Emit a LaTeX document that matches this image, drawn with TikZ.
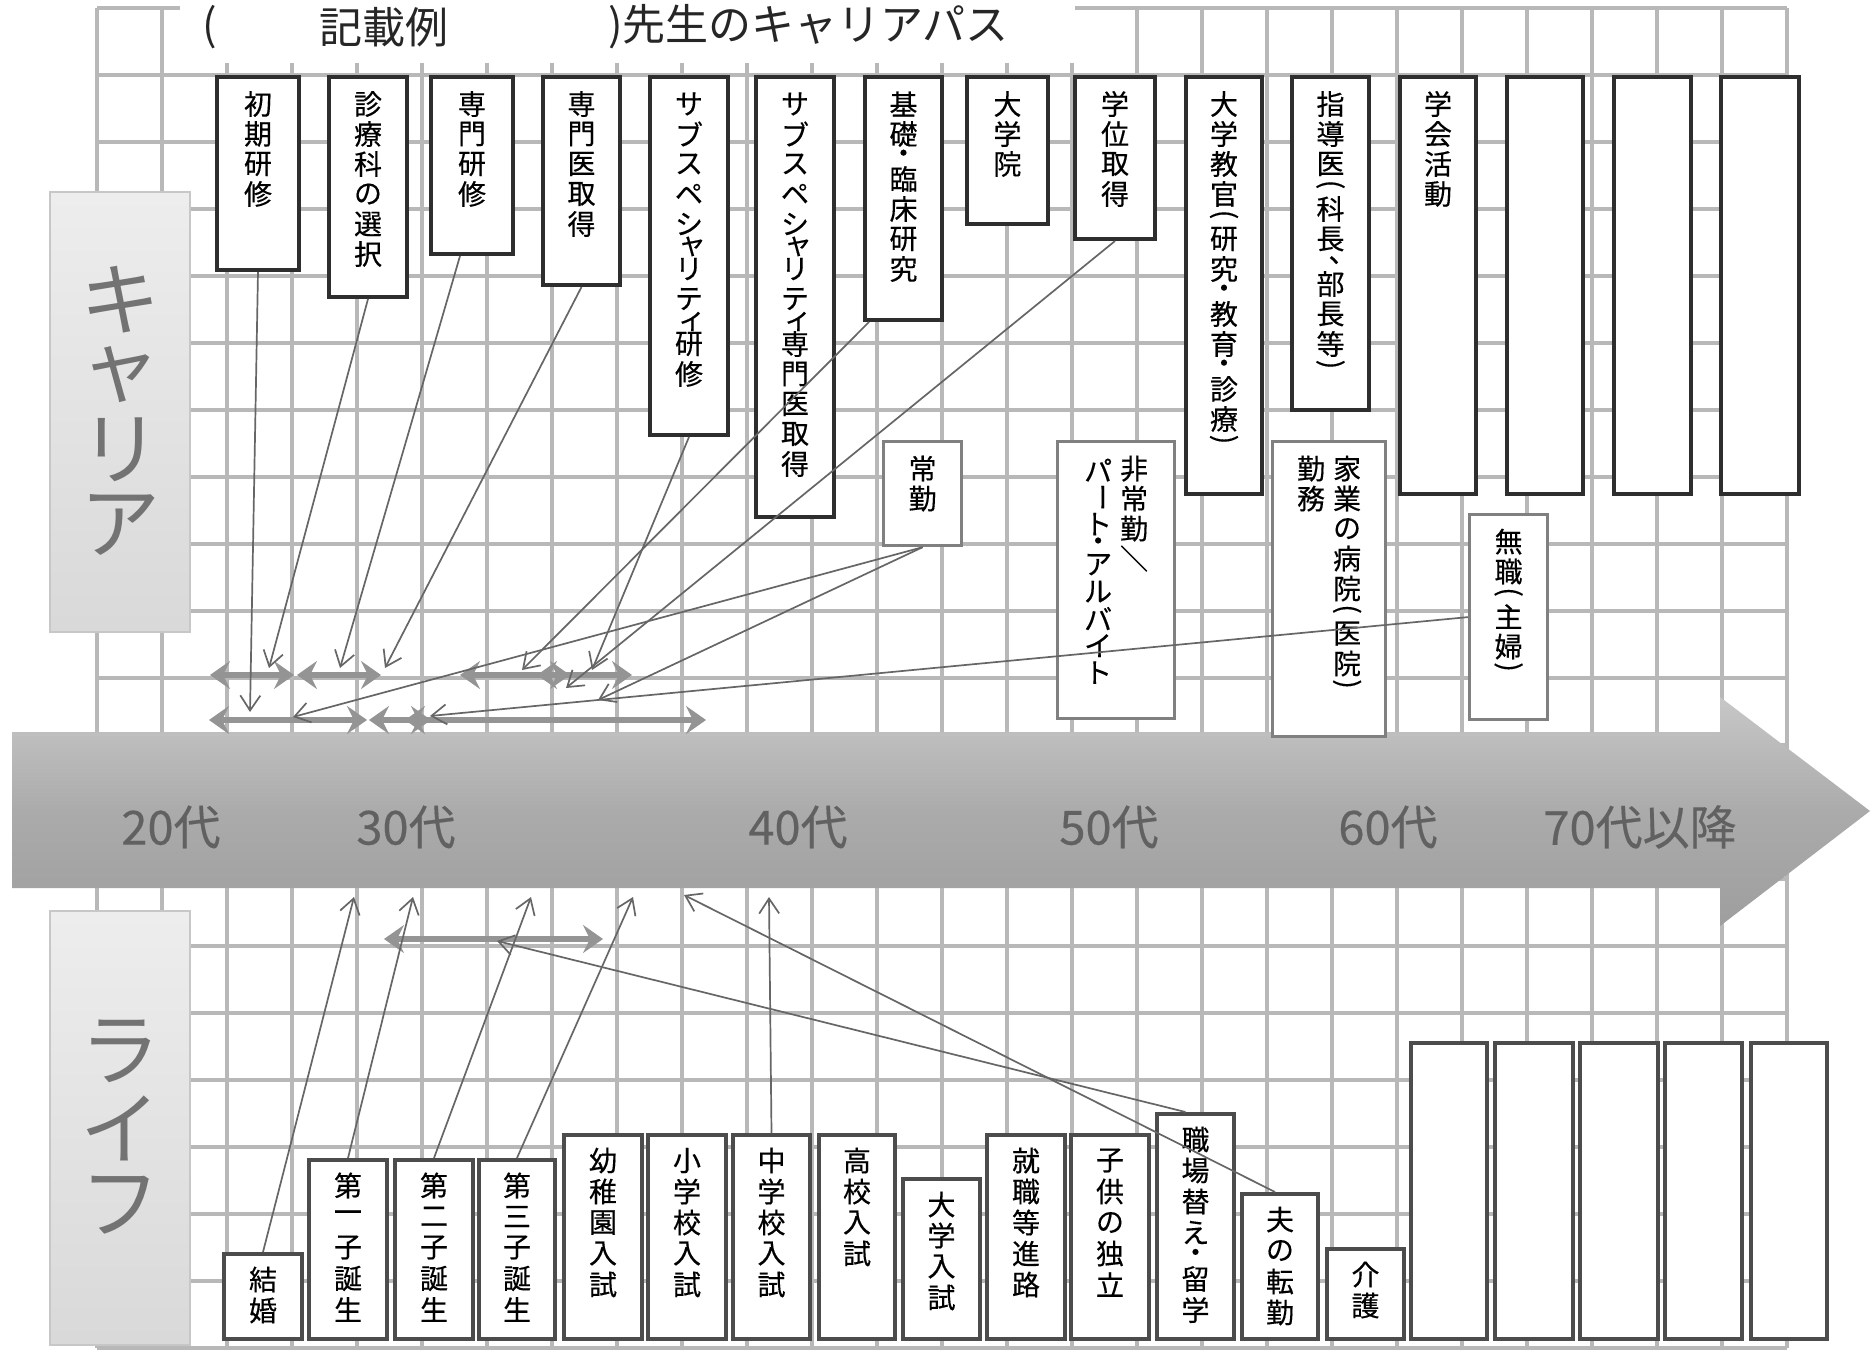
\documentclass[tikz,border=0pt]{standalone}
\usepackage{fontspec}
\usepackage{graphicx}
\setmainfont{Noto Sans CJK JP}
\newfontfamily\bjp{Noto Sans CJK JP}[FakeBold=0.35]
\usetikzlibrary{arrows.meta}

\newdimen\cellH \cellH=30pt
\newdimen\cellW \cellW=32pt
\newdimen\boxpad \boxpad=12pt
\newcommand\K[1]{\hbox to \cellW{\hss\vbox to \cellH{\vss\hbox{#1}\vss}\hss}}
\newcommand\HC[1]{\hbox to \cellW{\hss\vbox to 0.5\cellH{\vss\hbox{#1}\vss}\hss}}
\newcommand\lp{\HC{\rotatebox[origin=c]{-90}{(}}}
\newcommand\rp{\HC{\rotatebox[origin=c]{-90}{)}}}
\newcommand\nak{\HC{・}}
\newcommand\cho{\K{\rotatebox[origin=c]{-90}{ー}}}
\newcommand\ten{\HC{\hspace*{24pt}\smash{\raisebox{-1pt}{、}}}}
\newcommand\sya{\HC{\hspace*{6pt}ャ}}
\newcommand\syi{\HC{\hspace*{6pt}ィ}}

\makeatletter
\def\vt@stop{\vt@stop}
\newcommand\vtext[1]{\vtop{\offinterlineskip\vt@loop#1\vt@stop}}
\def\vt@loop#1{\ifx#1\vt@stop\else\vt@item{#1}\expandafter\vt@loop\fi}
\def\vt@item#1{\ifcat\noexpand#1\relax#1\else\K{#1}\fi}
\makeatother
\newcommand\lt[1]{{\cellH=31pt\vtext{#1}}}

\newcommand\mkbox[7]{%
  \pgfmathsetmacro\bxw{#5-#3}%
  \pgfmathsetmacro\bxh{#6-#4}%
  \node[#1, anchor=north west, inner sep=0pt, minimum width=\bxw pt, minimum height=\bxh pt] (#2) at (#3,#4)
   {\vbox to \bxh pt{\vskip\boxpad\hbox to \bxw pt{\hss#7\hss}\vss}};}

\definecolor{gridc}{gray}{0.72}
\definecolor{darkb}{gray}{0.18}
\definecolor{lifeb}{gray}{0.3}
\definecolor{lightb}{gray}{0.5}
\definecolor{thinl}{gray}{0.4}
\definecolor{thickl}{gray}{0.58}
\definecolor{agec}{gray}{0.38}
\definecolor{panelt}{gray}{0.45}

\begin{document}
\begin{tikzpicture}[x=1pt,y=-1pt,
  gridline/.style={draw=gridc, line width=4.5pt},
  cbox/.style={draw=darkb, line width=4pt, fill=white, font=\bjp\fontsize{28pt}{30pt}\selectfont},
  lbox/.style={draw=lifeb, line width=4pt, fill=white, font=\bjp\fontsize{28pt}{30pt}\selectfont},
  gbox/.style={draw=lightb, line width=3.2pt, fill=white, font=\bjp\fontsize{28pt}{30pt}\selectfont},
  panel/.style={draw=black!22, line width=1.5pt, top color=black!7, bottom color=black!15, text=panelt, inner sep=0pt, font=\fontsize{80pt}{80pt}\selectfont},
  agelbl/.style={text=agec, inner sep=0pt, font=\bjp\fontsize{47pt}{50pt}\selectfont},
  title/.style={text=black!85, inner sep=0pt, font=\fontsize{43pt}{45pt}\selectfont},
  conn/.style={draw=thinl, line width=1.7pt, -{Straight Barb[length=15pt,width=20pt]}},
  dbl/.style={draw=thickl, line width=6pt, {Stealth[length=20pt,width=28pt,inset=7pt]}-{Stealth[length=20pt,width=28pt,inset=7pt]}}
]
\useasboundingbox (0,0) rectangle (1874,1351);
\fill[white] (0,0) rectangle (1874,1351);

% grid
\foreach \i in {0,...,26} {\draw[gridline] ({97+65*\i},8) -- ({97+65*\i},1348);}
\foreach \j in {0,...,20} {\draw[gridline] (97,{8+67*\j}) -- (1787,{8+67*\j});}
\fill[white] (180,0) rectangle (1075,63);

% title
\node[title] (tlp) at (210,27) {(};
\node[title] (tkisai) at (384,27) {記載例};
\node[title, anchor=west] (tsensei) at (608,27) {)先生のキャリアパス};

% side panels
\node[panel, minimum width=140pt, minimum height=440pt] (cpanel) at (120,412) {\cellW=100pt\cellH=75pt\vtext{キャリア}};
\node[panel, minimum width=140pt, minimum height=434pt] (lpanel) at (120,1128) {\cellW=100pt\cellH=77pt\vtext{ライフ}};

% timeline arrow
\shade[top color=black!22, bottom color=black!38, middle color=black!33]
  (12,732) -- (1720,732) -- (1720,697) -- (1870,811) -- (1720,926) -- (1720,888) -- (12,888) -- cycle;
\draw[white!75!black, line width=2pt] (14,735) -- (1718,735);
\node[agelbl] (a20) at (171,827) {20代};
\node[agelbl] (a30) at (406,827) {30代};
\node[agelbl] (a40) at (798,827) {40代};
\node[agelbl] (a50) at (1109,827) {50代};
\node[agelbl] (a60) at (1388,827) {60代};
\node[agelbl] (a70) at (1640,827) {70代以降};

% career boxes
\mkbox{cbox}{shoki}{215}{75}{297}{268}{\vtext{初期研修}}
\mkbox{cbox}{shinryo}{327}{75}{405}{295}{\vtext{診療科の選択}}
\mkbox{cbox}{senken}{429}{75}{511}{252}{\vtext{専門研修}}
\mkbox{cbox}{senshu}{541}{75}{618}{283}{\vtext{専門医取得}}
\mkbox{cbox}{subken}{648}{75}{726}{433}{\vtext{サブスペシ\sya リテ\syi 研修}}
\mkbox{cbox}{subshu}{754}{75}{832}{515}{\vtext{サブスペシ\sya リテ\syi 専門医取得}}
\mkbox{cbox}{kiso}{863}{75}{940}{318}{\vtext{基礎\nak 臨床研究}}
\mkbox{cbox}{daigakuin}{965}{75}{1046}{222}{\vtext{大学院}}
\mkbox{cbox}{gakui}{1073}{75}{1153}{237}{\vtext{学位取得}}
\mkbox{cbox}{kyokan}{1184}{75}{1260}{492}{\vtext{大学教官\lp 研究\nak 教育\nak 診療\rp}}
\mkbox{cbox}{shido}{1290}{75}{1367}{408}{\vtext{指導医\lp 科長\ten 部長等\rp}}
\mkbox{cbox}{gakkai}{1398}{75}{1474}{492}{\vtext{学会活動}}
\mkbox{cbox}{ce1}{1505}{75}{1581}{492}{}
\mkbox{cbox}{ce2}{1612}{75}{1689}{492}{}
\mkbox{cbox}{ce3}{1719}{75}{1797}{492}{}

% work-style boxes
\mkbox{gbox}{jokin}{882}{440}{960}{544}{\vtext{常勤}}
\mkbox{gbox}{hijokin}{1056}{440}{1173}{717}{{\cellH=27pt\vtext{パ\cho ト\nak アルバイト}}\kern4pt\vtext{非常勤＼}}
\mkbox{gbox}{kagyo}{1271}{440}{1384}{735}{\vtext{勤務}\kern4pt\vtext{家業の病院\lp 医院\rp}}
\mkbox{gbox}{mushoku}{1468}{513}{1546}{718}{\vtext{無職\lp 主婦\rp}}

% life boxes
\boxpad=10pt
\mkbox{lbox}{kekkon}{222}{1252}{300}{1337}{\lt{結婚}}
\mkbox{lbox}{dai1}{307}{1158}{385}{1337}{\lt{第一子誕生}}
\mkbox{lbox}{dai2}{393}{1158}{471}{1337}{\lt{第二子誕生}}
\mkbox{lbox}{dai3}{477}{1158}{553}{1337}{\lt{第三子誕生}}
\mkbox{lbox}{yochien}{562}{1133}{640}{1337}{\lt{幼稚園入試}}
\mkbox{lbox}{shogaku}{646}{1133}{724}{1337}{\lt{小学校入試}}
\mkbox{lbox}{chugaku}{731}{1133}{808}{1337}{\lt{中学校入試}}
\mkbox{lbox}{koko}{817}{1133}{893}{1337}{\lt{高校入試}}
\mkbox{lbox}{daigaku}{901}{1177}{978}{1337}{\lt{大学入試}}
\mkbox{lbox}{shushoku}{985}{1133}{1063}{1337}{\lt{就職等進路}}
\mkbox{lbox}{dokuritsu}{1069}{1133}{1147}{1337}{\lt{子供の独立}}
\mkbox{lbox}{shokuba}{1155}{1112}{1232}{1337}{\lt{職場替え\nak 留学}}
\mkbox{lbox}{otto}{1240}{1192}{1316}{1337}{\lt{夫の転勤}}
\mkbox{lbox}{kaigo}{1325}{1247}{1402}{1337}{\lt{介護}}
\mkbox{lbox}{le1}{1409}{1041}{1485}{1337}{}
\mkbox{lbox}{le2}{1493}{1041}{1571}{1337}{}
\mkbox{lbox}{le3}{1578}{1041}{1656}{1337}{}
\mkbox{lbox}{le4}{1663}{1041}{1740}{1337}{}
\mkbox{lbox}{le5}{1749}{1041}{1825}{1337}{}

% period arrows
\coordinate (ra1) at (210,675); \coordinate (rb1) at (294,675);
\coordinate (ra2) at (297,675); \coordinate (rb2) at (381,675);
\coordinate (ra3) at (460,675); \coordinate (rb3) at (570,675);
\coordinate (ra4) at (537,675); \coordinate (rb4) at (632,675);
\coordinate (sa1) at (209,720); \coordinate (sb1) at (367,720);
\coordinate (sa2) at (369,720); \coordinate (sb2) at (431,720);
\coordinate (sa3) at (405,720); \coordinate (sb3) at (706,720);
\coordinate (la1) at (384,939); \coordinate (lb1) at (603,939);
\draw[dbl] (ra1) -- (rb1);
\draw[dbl] (ra2) -- (rb2);
\draw[dbl] (ra3) -- (rb3);
\draw[dbl] (ra4) -- (rb4);
\draw[dbl] (sa1) -- (sb1);
\draw[dbl] (sa2) -- (sb2);
\draw[dbl] (sa3) -- (sb3);
\draw[dbl] (la1) -- (lb1);

% connector ends
\coordinate (t1) at (250,712);
\coordinate (t2) at (269,668);
\coordinate (t3) at (340,668);
\coordinate (t4) at (385,668);
\coordinate (t5) at (592,670);
\coordinate (t6) at (522,670);
\coordinate (t7) at (566,688);
\coordinate (t8) at (293,717);
\coordinate (t9) at (598,700);
\coordinate (t10) at (430,716);
\coordinate (u1) at (354,897);
\coordinate (u2) at (413,897);
\coordinate (u3) at (531,897);
\coordinate (u4) at (633,897);
\coordinate (u5) at (769,897);
\coordinate (u6) at (497,941);
\coordinate (u7) at (684,895);

\draw[conn] (shoki.south) -- (t1);
\draw[conn] (shinryo.south) -- (t2);
\draw[conn] ([xshift=-12pt]senken.south) -- (t3);
\draw[conn] (senshu.south) -- (t4);
\draw[conn] (subken.south) -- (t5);
\draw[conn] ([xshift=6pt]kiso.south west) -- (t6);
\draw[conn] (gakui.south) -- (t7);
\draw[conn] (jokin.south) -- (t8);
\draw[conn] (jokin.south) -- (t9);
\draw[conn] (mushoku.west) -- (t10);
\draw[conn] (kekkon.north) -- (u1);
\draw[conn] (dai1.north) -- (u2);
\draw[conn] (dai2.north) -- (u3);
\draw[conn] (dai3.north) -- (u4);
\draw[conn] (chugaku.north) -- (u5);
\draw[conn] ([xshift=-10pt]shokuba.north) -- (u6);
\draw[conn] ([xshift=-5pt]otto.north) -- (u7);
\end{tikzpicture}
\end{document}
